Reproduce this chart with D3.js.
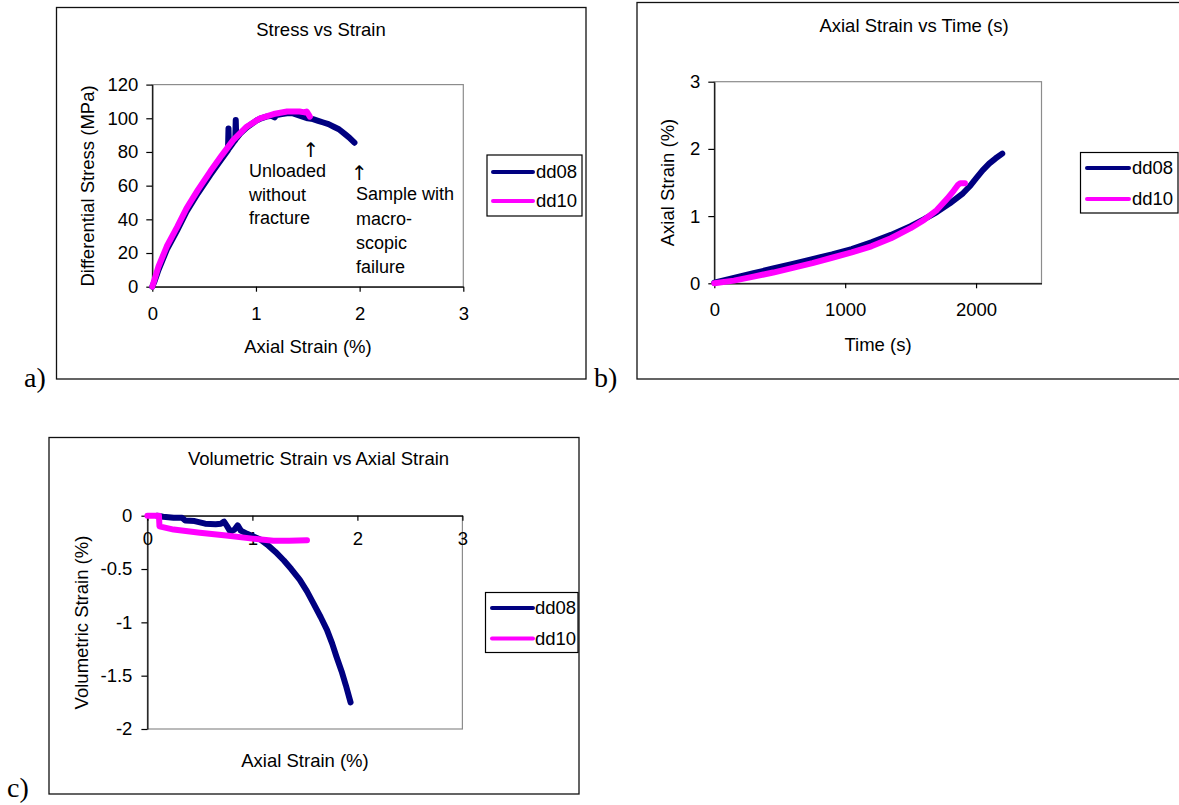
<!DOCTYPE html>
<html>
<head>
<meta charset="utf-8">
<script src="https://cdn.jsdelivr.net/npm/d3@7"></script>
<style>
body { margin: 0; background: #fff; }
svg text { font-family: "Liberation Sans", Arial, sans-serif; fill: #000; }
</style>
</head>
<body>
<svg id="fig" width="1179" height="805"></svg>
<script>
// series
const seriesNames = ["dd08", "dd10"];
const seriesColors = ["#000080", "#ff00ff"];

// a) stress vs strain : [axial strain %, differential stress MPa]
const stressDd08 = [[0,0],[0.02,3],[0.06,10],[0.14,22],[0.24,33.5],[0.33,44.5],[0.44,55.5],[0.56,66.5],
  [0.67,76],[0.73,81],[0.735,94],[0.74,82],[0.78,85.5],[0.80,87],[0.805,99],[0.81,88],[0.85,91],
  [0.91,94.5],[1.0,98.5],[1.05,100],[1.1,101],[1.15,101.5],[1.18,100.5],[1.2,102],[1.25,102.5],
  [1.3,103],[1.35,103],[1.4,102],[1.45,101],[1.5,100],[1.55,99.5],[1.6,98.5],[1.65,97.5],[1.7,96.5],
  [1.75,95],[1.8,93.5],[1.85,91],[1.9,88.5],[1.95,85.5]];
const stressDd10 = [[0,0],[0.01,2],[0.06,12],[0.14,24],[0.24,35.5],[0.33,46.5],[0.44,57.5],[0.56,68.5],
  [0.67,78],[0.78,87],[0.91,95],[1.04,100],[1.17,102.5],[1.3,104],[1.42,104],[1.47,103.5],[1.49,104],
  [1.51,102],[1.52,101]];
const stressTicksX = [0, 1, 2, 3];
const stressTicksY = [0, 20, 40, 60, 80, 100, 120];

// b) axial strain vs time : [time s, axial strain %]
const timeDd08 = [[0,0.01],[150,0.08],[300,0.15],[450,0.22],[600,0.29],[750,0.36],[900,0.43],[1050,0.51],
  [1200,0.61],[1350,0.72],[1500,0.85],[1600,0.95],[1700,1.06],[1800,1.19],[1900,1.34],[1950,1.44],
  [2000,1.56],[2050,1.68],[2100,1.78],[2150,1.86],[2200,1.93]];
const timeDd10 = [[0,0],[150,0.04],[300,0.1],[450,0.16],[600,0.23],[750,0.3],[900,0.38],[1050,0.46],
  [1200,0.55],[1350,0.67],[1500,0.82],[1600,0.94],[1700,1.09],[1780,1.26],[1830,1.38],[1860,1.46],
  [1880,1.49],[1915,1.49]];
const timeTicksX = [0, 1000, 2000];
const timeTicksY = [0, 1, 2, 3];

// c) volumetric strain vs axial strain : [axial strain %, volumetric strain %]
const volDd08 = [[0.09,0],[0.15,-0.01],[0.25,-0.02],[0.33,-0.02],[0.36,-0.045],[0.45,-0.05],[0.55,-0.075],
  [0.65,-0.08],[0.7,-0.075],[0.73,-0.055],[0.76,-0.1],[0.79,-0.15],[0.83,-0.13],[0.86,-0.09],[0.89,-0.14],
  [0.95,-0.17],[1.0,-0.19],[1.07,-0.22],[1.14,-0.27],[1.22,-0.34],[1.3,-0.42],[1.37,-0.5],[1.45,-0.6],
  [1.52,-0.71],[1.58,-0.82],[1.65,-0.95],[1.71,-1.07],[1.76,-1.2],[1.8,-1.32],[1.85,-1.46],[1.89,-1.59],
  [1.935,-1.75]];
const volDd10 = [[0,0],[0.11,0],[0.115,-0.1],[0.25,-0.13],[0.5,-0.16],[0.75,-0.185],[1.0,-0.215],
  [1.2,-0.235],[1.35,-0.235],[1.52,-0.23]];
const volTicksX = [0, 1, 2, 3];
const volTicksY = [0, -0.5, -1, -1.5, -2];

const svg = d3.select("#fig");
const FS = 18.5;

const panels = [
  {
    frame: [56.5, 7.5, 586, 379], plot: {left: 152.3, right: 463.3, top: 84.6, bottom: 286.7},
    xDomain: [0, 3], yDomain: [0, 120], xTicks: stressTicksX, yTicks: stressTicksY, xCross: 0,
    series: [stressDd08, stressDd10],
    title: "Stress vs Strain", titlePos: [321, 30],
    xLabel: "Axial Strain (%)", xLabelPos: [308, 347],
    yLabel: "Differential Stress (MPa)", yLabelPos: [88, 186],
    xPad: 15, yPad: 8,
    legend: {box: [487, 155, 582, 216], rows: [172, 201], line: [493, 533], text: 536},
    tag: "a)", tagPos: [24, 387]
  },
  {
    frame: [637, 2.5, 1190, 379], plot: {left: 714.3, right: 1041.5, top: 81.7, bottom: 283.3},
    xDomain: [0, 2500], yDomain: [0, 3], xTicks: timeTicksX, yTicks: timeTicksY, xCross: 0,
    series: [timeDd08, timeDd10],
    title: "Axial Strain vs Time (s)", titlePos: [914, 26],
    xLabel: "Time (s)", xLabelPos: [878, 345],
    yLabel: "Axial Strain (%)", yLabelPos: [668, 182.5],
    xPad: 15, yPad: 8,
    legend: {box: [1080.5, 152.5, 1178, 213], rows: [168, 199], line: [1087, 1129], text: 1132},
    tag: "b)", tagPos: [594, 387]
  },
  {
    frame: [49, 437.5, 579, 794], plot: {left: 147.4, right: 462.4, top: 515.7, bottom: 729},
    xDomain: [0, 3], yDomain: [-2, 0], xTicks: volTicksX, yTicks: volTicksY, xCross: 0,
    series: [volDd08, volDd10],
    title: "Volumetric Strain vs Axial Strain", titlePos: [318.5, 459],
    xLabel: "Axial Strain (%)", xLabelPos: [305, 761],
    yLabel: "Volumetric Strain (%)", yLabelPos: [82, 622.5],
    xPad: 11, yPad: 9,
    legend: {box: [485.5, 592.5, 578, 652.5], rows: [608, 638.5], line: [492, 533], text: 535},
    tag: "c)", tagPos: [7, 797]
  }
];

panels.forEach(drawPanel);

function drawPanel(p) {
  const g = svg.append("g");
  const [fx0, fy0, fx1, fy1] = p.frame;

  g.append("rect")
    .attr("x", fx0).attr("y", fy0)
    .attr("width", fx1 - fx0).attr("height", fy1 - fy0)
    .attr("fill", "#fff").attr("stroke", "#111").attr("stroke-width", 1.3);

  g.append("text")
    .attr("x", p.tagPos[0]).attr("y", p.tagPos[1])
    .style("font-family", "'Liberation Serif', 'Times New Roman', serif")
    .style("font-size", "28px")
    .text(p.tag);

  const x = d3.scaleLinear().domain(p.xDomain).range([p.plot.left, p.plot.right]);
  const y = d3.scaleLinear().domain(p.yDomain).range([p.plot.bottom, p.plot.top]);

  // plot area border
  g.append("rect")
    .attr("x", p.plot.left).attr("y", p.plot.top)
    .attr("width", p.plot.right - p.plot.left).attr("height", p.plot.bottom - p.plot.top)
    .attr("fill", "none").attr("stroke", "#8c8c8c").attr("stroke-width", 1.2);

  // axes
  const xAxis = g.append("g")
    .attr("transform", `translate(0,${y(p.xCross)})`)
    .call(d3.axisBottom(x).tickValues(p.xTicks).tickSize(5).tickSizeOuter(0)
      .tickPadding(p.xPad).tickFormat(d => String(d)));
  const yAxis = g.append("g")
    .attr("transform", `translate(${x(0)},0)`)
    .call(d3.axisLeft(y).tickValues(p.yTicks).tickSize(6).tickSizeOuter(0)
      .tickPadding(p.yPad).tickFormat(d => String(d)));
  [xAxis, yAxis].forEach(a => {
    a.attr("font-family", null).attr("font-size", null);
    a.selectAll("text").style("font-size", FS + "px");
    a.selectAll("path, line").attr("stroke", "#000").attr("stroke-width", 1.2);
  });

  // series
  const line = d3.line().x(d => x(d[0])).y(d => y(d[1]));
  p.series.forEach((s, i) => {
    g.append("path")
      .datum(s)
      .attr("d", line)
      .attr("fill", "none")
      .attr("stroke", seriesColors[i])
      .attr("stroke-width", 6)
      .attr("stroke-linejoin", "round")
      .attr("stroke-linecap", "round");
  });

  // titles
  g.append("text")
    .attr("x", p.titlePos[0]).attr("y", p.titlePos[1]).attr("dy", "0.35em")
    .attr("text-anchor", "middle").style("font-size", FS + "px")
    .text(p.title);
  g.append("text")
    .attr("x", p.xLabelPos[0]).attr("y", p.xLabelPos[1]).attr("dy", "0.35em")
    .attr("text-anchor", "middle").style("font-size", FS + "px")
    .text(p.xLabel);
  g.append("text")
    .attr("transform", `translate(${p.yLabelPos[0]},${p.yLabelPos[1]}) rotate(-90)`)
    .attr("dy", "0.35em")
    .attr("text-anchor", "middle").style("font-size", FS + "px")
    .text(p.yLabel);

  // legend
  const L = p.legend;
  g.append("rect")
    .attr("x", L.box[0]).attr("y", L.box[1])
    .attr("width", L.box[2] - L.box[0]).attr("height", L.box[3] - L.box[1])
    .attr("fill", "#fff").attr("stroke", "#000").attr("stroke-width", 1.2);
  seriesNames.forEach((name, i) => {
    g.append("line")
      .attr("x1", L.line[0]).attr("x2", L.line[1])
      .attr("y1", L.rows[i]).attr("y2", L.rows[i])
      .attr("stroke", seriesColors[i]).attr("stroke-width", 4)
      .attr("stroke-linecap", "round");
    g.append("text")
      .attr("x", L.text).attr("y", L.rows[i]).attr("dy", "0.35em")
      .style("font-size", FS + "px")
      .text(name);
  });
}

// annotations on the stress-strain panel
const notes = [
  {arrow: [311, 150], x: 249, y0: 171, step: 23.2, lines: ["Unloaded", "without", "fracture"]},
  {arrow: [359.5, 172.5], x: 356, y0: 194, step: 24.2, lines: ["Sample with", "macro-", "scopic", "failure"]}
];
notes.forEach(n => {
  svg.append("text")
    .attr("x", n.arrow[0]).attr("y", n.arrow[1]).attr("dy", "0.35em")
    .attr("text-anchor", "middle")
    .style("font-family", "'DejaVu Sans', sans-serif")
    .style("font-size", "20px")
    .text("\u2191");
  n.lines.forEach((t, i) => {
    svg.append("text")
      .attr("x", n.x).attr("y", n.y0 + i * n.step).attr("dy", "0.35em")
      .style("font-size", "18px")
      .text(t);
  });
});
</script>
</body>
</html>
